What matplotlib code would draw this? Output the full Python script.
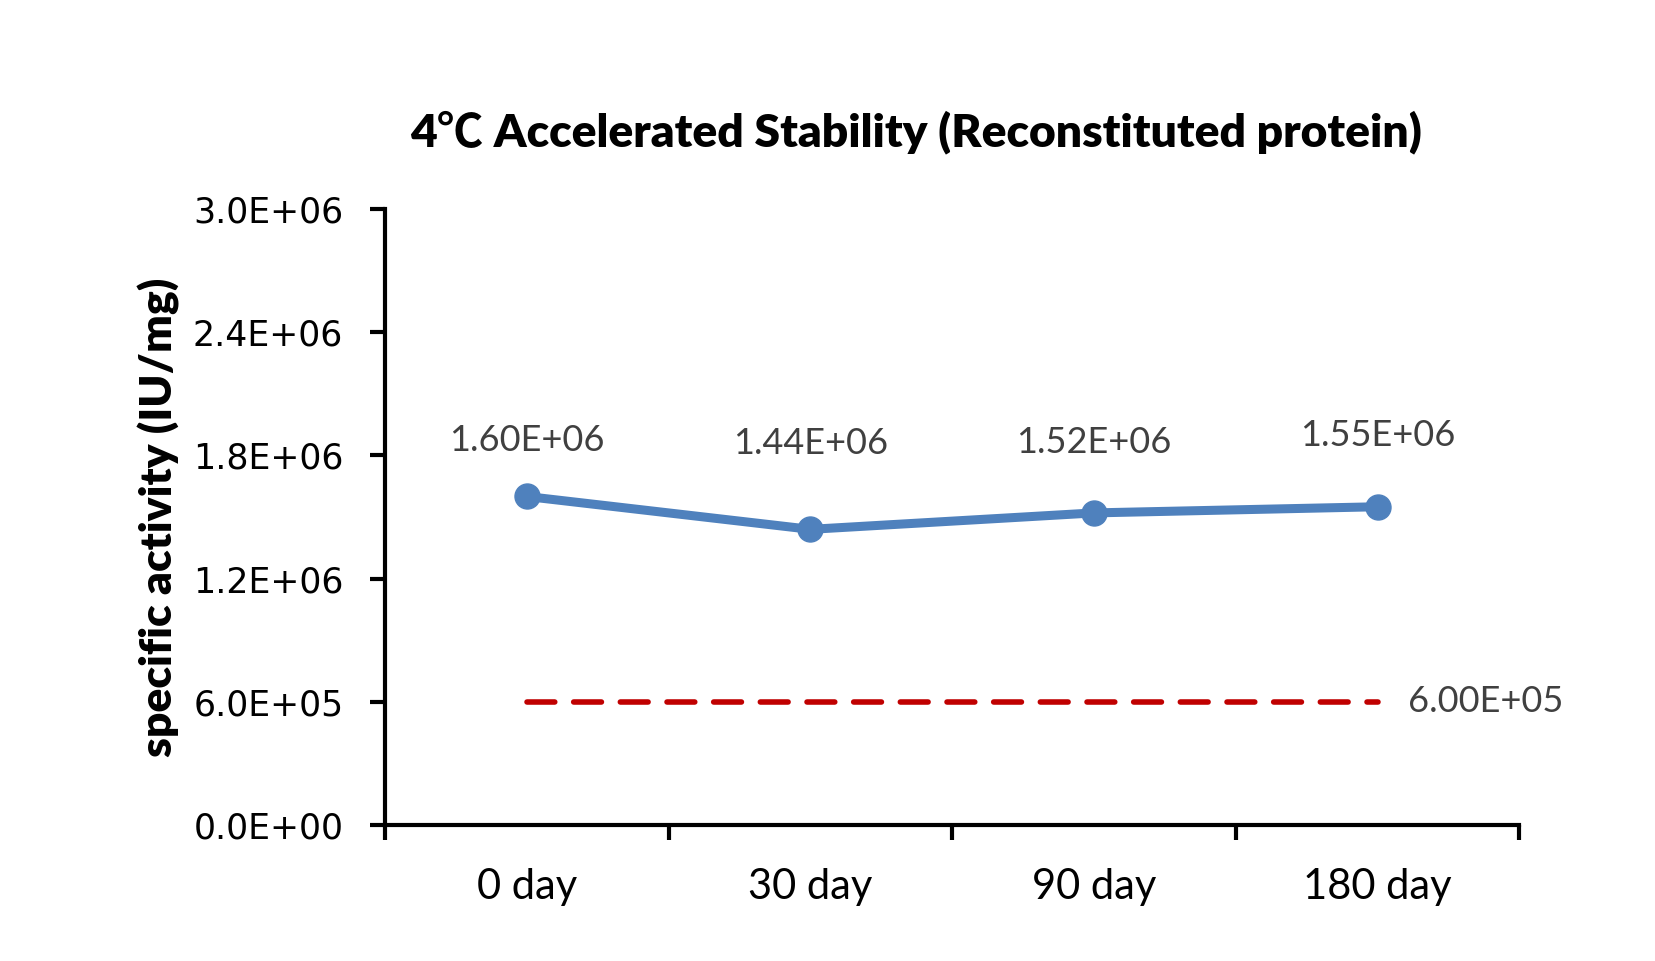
import matplotlib
matplotlib.use("Agg")
import matplotlib.pyplot as plt
import numpy as np

# data
days = ['0 day', '30 day', '90 day', '180 day']
activity = [1.60e6, 1.44e6, 1.52e6, 1.55e6]
activity_labels = ['1.60E+06', '1.44E+06', '1.52E+06', '1.55E+06']
limit = [6.0e5, 6.0e5, 6.0e5, 6.0e5]
limit_label = '6.00E+05'
y_ticks = [0, 6e5, 1.2e6, 1.8e6, 2.4e6, 3.0e6]
y_tick_labels = ['0.0E+00', '6.0E+05', '1.2E+06', '1.8E+06', '2.4E+06', '3.0E+06']

# label offsets above each point (points), as placed in the original
label_offsets = [40, 62, 51, 51]

calibri_like = ['Lato', 'Noto Sans CJK SC', 'DejaVu Sans']

fig = plt.figure(figsize=(16.56, 9.61), dpi=100)
ax = fig.add_axes([0.2325, 0.1415, 0.685, 0.641])

x = np.arange(len(days))
ax.plot(x, activity, color='#4F81BD', lw=6.5, marker='o', markersize=18,
        solid_capstyle='round', zorder=3)
ax.plot(x, limit, color='#C00000', lw=4, linestyle=(0, (5, 3.4)),
        dash_capstyle='round', zorder=2)

for i, v in enumerate(activity):
    ax.annotate(activity_labels[i], (x[i], v), xytext=(0, label_offsets[i]),
                textcoords='offset points', ha='center', va='center',
                fontsize=26, color='#404040', family=calibri_like)

ax.annotate(limit_label, (x[-1], limit[-1]), xytext=(22, 0),
            textcoords='offset points', ha='left', va='center',
            fontsize=26, color='#404040', family=calibri_like)

ax.set_xlim(-0.5, len(days) - 0.5)
ax.set_ylim(0, 3.0e6)

ax.set_yticks(y_ticks)
ax.set_yticklabels(y_tick_labels, fontsize=25, family='DejaVu Sans')
ax.set_xticks(np.arange(-0.5, len(days), 1.0))
ax.set_xticklabels([])
ax.set_xticks(x, minor=True)
ax.set_xticklabels(days, minor=True, fontsize=30, family=calibri_like)

ax.tick_params(axis='y', direction='out', length=11, width=3, pad=19)
ax.tick_params(axis='x', which='major', direction='out', length=11, width=3)
ax.tick_params(axis='x', which='minor', length=0, pad=31)

for s in ['top', 'right']:
    ax.spines[s].set_visible(False)
for s in ['left', 'bottom']:
    ax.spines[s].set_linewidth(3)

ax.set_ylabel('specific activity (IU/mg)', fontsize=32, fontweight='heavy',
              family=calibri_like, labelpad=9)

fig.text(0.553, 0.863, '4℃ Accelerated Stability (Reconstituted protein)',
         ha='center', va='center', fontsize=33.3, fontweight='heavy',
         family=calibri_like)

fig.savefig('out.png', dpi=100)
